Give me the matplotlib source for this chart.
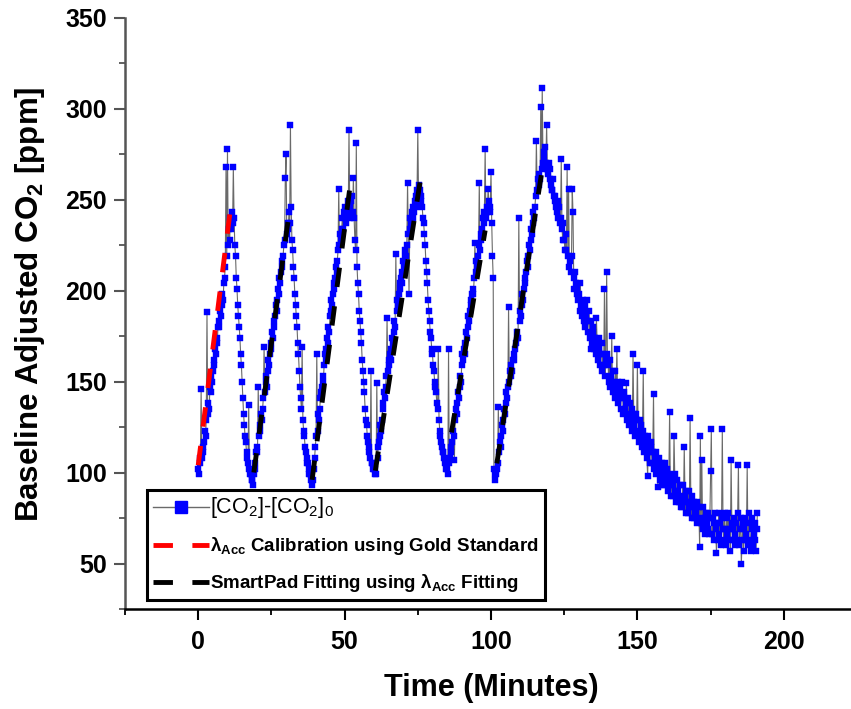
import numpy as np
import matplotlib
matplotlib.use("Agg")
import matplotlib.pyplot as plt
from matplotlib.lines import Line2D
from matplotlib.ticker import MultipleLocator

plt.rcParams['font.family'] = ['Liberation Sans', 'DejaVu Sans']
plt.rcParams['mathtext.fontset'] = 'custom'
plt.rcParams['mathtext.rm'] = 'Liberation Sans'
plt.rcParams['mathtext.it'] = 'Liberation Sans:italic'
plt.rcParams['mathtext.bf'] = 'Liberation Sans:bold'

# ---------------- data ----------------
sample_step_min = 0.25  # sampling interval (minutes)

# one row = 10 minutes (40 samples)
co2 = [
    # 0-10
    102, 99, 105, 108, 146, 108, 114, 111, 117, 123, 120, 129, 188, 132, 138, 135, 147, 144, 153, 150,
    156, 162, 159, 168, 165, 174, 171, 180, 183, 180, 189, 186, 192, 198, 195, 204, 207, 213, 268, 219,
    # 10-20
    278, 225, 234, 228, 240, 234, 243, 237, 268, 240, 225, 219, 207, 201, 192, 186, 180, 174, 165, 159,
    150, 141, 132, 126, 120, 117, 111, 108, 105, 137, 102, 99, 99, 96, 96, 93, 99, 102, 105, 111,
    # 20-30
    114, 111, 147, 120, 126, 123, 132, 129, 135, 141, 169, 144, 150, 153, 147, 156, 162, 159, 165, 171,
    168, 177, 174, 183, 180, 186, 192, 189, 195, 201, 198, 207, 204, 210, 216, 213, 219, 225, 228, 262,
    # 30-40
    275, 231, 237, 234, 243, 237, 291, 246, 228, 222, 213, 207, 198, 192, 186, 180, 171, 165, 156, 147,
    141, 135, 169, 129, 123, 120, 114, 111, 108, 105, 105, 102, 99, 99, 96, 96, 93, 96, 102, 108,
    # 40-50
    114, 120, 165, 123, 132, 129, 135, 141, 144, 147, 153, 150, 159, 165, 162, 168, 174, 171, 180, 177,
    186, 189, 195, 192, 198, 204, 201, 207, 213, 210, 216, 222, 256, 225, 231, 228, 234, 240, 234, 243,
    # 50-60
    240, 246, 237, 243, 249, 243, 288, 246, 240, 249, 252, 243, 262, 240, 228, 222, 281, 213, 204, 198,
    189, 183, 177, 171, 162, 156, 150, 144, 135, 129, 126, 120, 117, 114, 111, 108, 156, 105, 105, 102,
    # 60-70
    102, 99, 102, 99, 149, 108, 114, 117, 120, 126, 123, 129, 135, 138, 144, 141, 147, 153, 185, 156,
    162, 159, 165, 162, 168, 174, 171, 177, 183, 180, 220, 189, 195, 192, 198, 204, 201, 207, 204, 210,
    # 70-80
    216, 213, 219, 222, 219, 225, 259, 231, 198, 234, 240, 237, 243, 240, 246, 243, 249, 252, 246, 255,
    288, 252, 258, 255, 249, 252, 246, 240, 237, 231, 225, 216, 210, 204, 195, 189, 183, 177, 174, 168,
    # 80-90
    165, 159, 156, 150, 147, 144, 138, 135, 168, 129, 123, 120, 117, 114, 111, 111, 108, 105, 105, 102,
    102, 99, 168, 105, 108, 114, 111, 117, 123, 120, 107, 129, 135, 132, 138, 144, 141, 147, 153, 150,
    # 90-100
    159, 165, 162, 168, 165, 171, 177, 174, 180, 186, 183, 189, 195, 192, 198, 201, 198, 207, 226, 210,
    216, 213, 219, 225, 259, 222, 231, 228, 234, 240, 237, 243, 278, 240, 246, 243, 256, 249, 243, 246,
    # 100-110
    265, 237, 219, 207, 102, 99, 96, 99, 102, 105, 136, 111, 117, 114, 120, 126, 123, 129, 135, 132,
    138, 144, 141, 147, 191, 150, 156, 153, 159, 156, 162, 165, 162, 168, 171, 174, 177, 174, 240, 183,
    # 110-120
    189, 186, 192, 198, 195, 201, 207, 204, 210, 216, 213, 219, 225, 222, 228, 234, 231, 237, 243, 240,
    246, 252, 282, 255, 261, 258, 264, 261, 301, 267, 311, 270, 276, 273, 279, 270, 291, 267, 264, 270,
    # 120-130
    261, 267, 258, 255, 255, 261, 252, 249, 252, 246, 243, 249, 240, 246, 237, 240, 272, 234, 228, 237,
    228, 222, 231, 222, 268, 219, 256, 213, 216, 210, 219, 256, 243, 207, 201, 210, 204, 198, 201, 195,
    # 130-140
    198, 189, 204, 192, 186, 195, 189, 183, 192, 180, 186, 195, 177, 183, 189, 174, 168, 183, 171, 177,
    180, 168, 174, 165, 185, 171, 162, 174, 168, 159, 165, 171, 156, 165, 159, 201, 153, 162, 210, 165,
    # 140-150
    159, 150, 162, 147, 153, 175, 144, 156, 150, 141, 156, 147, 168, 138, 150, 144, 147, 135, 141, 150,
    141, 132, 144, 135, 138, 149, 129, 141, 132, 126, 138, 129, 135, 123, 165, 132, 126, 120, 132, 129,
    # 150-160
    159, 123, 117, 129, 120, 126, 114, 123, 156, 111, 120, 117, 114, 108, 98, 120, 111, 105, 117, 114,
    105, 111, 143, 102, 108, 99, 111, 105, 92, 102, 108, 96, 99, 105, 93, 102, 99, 93, 105, 96,
    # 160-170
    96, 102, 90, 99, 133, 93, 87, 96, 93, 87, 120, 99, 90, 84, 96, 87, 90, 84, 93, 81,
    87, 81, 93, 84, 114, 87, 78, 90, 84, 78, 90, 81, 130, 84, 75, 87, 81, 75, 84, 78,
    # 170-180
    78, 84, 72, 75, 81, 59, 120, 72, 107, 69, 81, 75, 75, 66, 78, 72, 69, 78, 66, 75,
    101, 124, 66, 75, 72, 63, 78, 69, 56, 72, 63, 78, 66, 72, 60, 75, 124, 69, 63, 78,
    # 180-191
    69, 60, 75, 66, 78, 63, 69, 57, 107, 72, 63, 69, 75, 60, 66, 72, 63, 78, 104, 60,
    69, 75, 50, 63, 72, 57, 69, 75, 63, 66, 104, 60, 72, 78, 63, 57, 69, 75, 60, 66,
    63, 72, 57, 69, 78,
]
time_min = np.arange(len(co2)) * sample_step_min

# linear fits: (t_start, t_end), (v_start, v_end)
gold_fit_t = [(0.0, 11.1)]
gold_fit_v = [(104, 246)]
pad_fit_t = [(19.0, 31.0), (38.9, 52.0), (60.5, 75.9), (86.5, 98.0), (102.0, 117.9)]
pad_fit_v = [(100, 242), (96, 259), (101, 261), (122, 233), (105, 271)]

label_data = r'[CO$_2$]-[CO$_2$]$_0$'
label_gold = r'λ$_{\mathbf{Acc}}$ Calibration using Gold Standard'
label_pad = r'SmartPad Fitting using λ$_{\mathbf{Acc}}$ Fitting'

# ---------------- figure ----------------
fig = plt.figure(figsize=(8.51, 7.09), dpi=100)
ax = fig.add_axes([125/851, 1 - 609/709, 732/851, 591.5/709])

ax.plot(time_min, co2, '-', color='#6a6a6a', lw=0.8, marker='s', ms=4.3,
        mfc='#0000ff', mec='#0000ff', mew=0.3, zorder=2)

for (t0, t1), (v0, v1) in zip(gold_fit_t, gold_fit_v):
    ax.plot([t0, t1], [v0, v1], color='#ff0000', lw=3.5, dashes=(4, 4), zorder=3)
for (t0, t1), (v0, v1) in zip(pad_fit_t, pad_fit_v):
    ax.plot([t0, t1], [v0, v1], color='black', lw=3.5, dashes=(4, 4), zorder=3)

ax.set_xlim(-25, 225)
ax.set_ylim(25, 350)
ax.xaxis.set_minor_locator(MultipleLocator(25))
ax.yaxis.set_minor_locator(MultipleLocator(25))
ax.set_xticks([0, 50, 100, 150, 200])
ax.set_yticks([50, 100, 150, 200, 250, 300, 350])

for s in ['top', 'right']:
    ax.spines[s].set_visible(False)
ax.spines['left'].set_color('#555555')
ax.spines['left'].set_linewidth(1.8)
ax.spines['bottom'].set_color('black')
ax.spines['bottom'].set_linewidth(1.8)

ax.tick_params(axis='y', which='major', direction='out', length=8, width=1.5,
               color='#555555', labelsize=18, pad=5)
ax.tick_params(axis='y', which='minor', direction='out', length=4, width=1.3, color='#555555')
ax.tick_params(axis='x', which='major', direction='out', length=8, width=1.5,
               color='black', labelsize=18, pad=7)
ax.tick_params(axis='x', which='minor', direction='out', length=4, width=1.3, color='black')
for lab in ax.get_xticklabels() + ax.get_yticklabels():
    lab.set_fontweight('bold')

ax.set_xlabel('Time (Minutes)', fontsize=22, fontweight='bold')
ax.set_ylabel(r'Baseline Adjusted CO$_\mathbf{2}$ [ppm]', fontsize=22.5, fontweight='bold')
ax.xaxis.set_label_coords(0.5, (609 - 673) / 591.5)
ax.yaxis.set_label_coords((47 - 125) / 732, 0.515)

h_data = Line2D([], [], color='#6a6a6a', lw=1.0, marker='s', ms=8,
                mfc='#0000ff', mec='#0000ff')
h_gold = Line2D([], [], color='#ff0000', lw=3.5, dashes=(4, 4))
h_pad = Line2D([], [], color='black', lw=3.5, dashes=(4, 4))
leg = ax.legend([h_data, h_gold, h_pad], [label_data, label_gold, label_pad],
                loc='lower left', bbox_to_anchor=(0.030, 0.0152), borderaxespad=0,
                prop={'weight': 'bold', 'size': 13.5}, handlelength=3.0,
                handletextpad=0.08, borderpad=0.3, labelspacing=0.8,
                fancybox=False, framealpha=1, edgecolor='black')
leg.get_frame().set_linewidth(2.2)
t0 = leg.get_texts()[0]
t0.set_fontsize(15.5)
t0.set_fontweight('normal')

fig.savefig('out.png', dpi=100)
